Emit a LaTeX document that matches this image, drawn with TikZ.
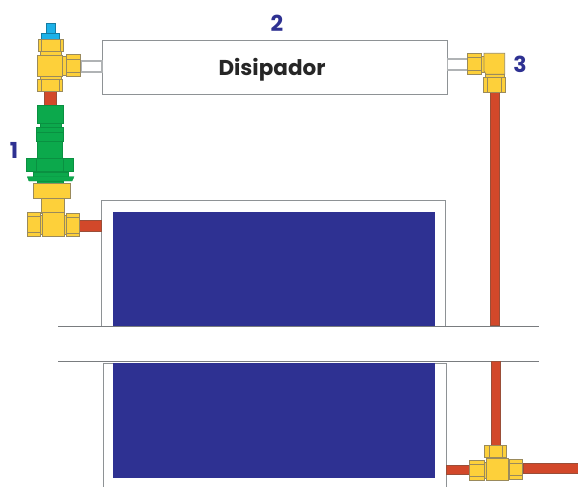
\documentclass[tikz,border=0pt]{standalone}
\usepackage{fontspec}
\setmainfont{Poppins}
\definecolor{brass}{HTML}{FDD03A}
\definecolor{brassline}{HTML}{9A8A5C}
\definecolor{gasgreen}{HTML}{0CA94C}
\definecolor{pipe}{HTML}{D2482A}
\definecolor{pipeline}{HTML}{9A4E38}
\definecolor{capblue}{HTML}{1DB1E8}
\definecolor{panel}{HTML}{2E3192}
\definecolor{outline}{HTML}{8E9295}
\tikzset{
  brasspart/.style={fill=brass,draw=brassline,line width=0.8pt},
  brassmark/.style={draw=brassline,line width=0.6pt},
  greenpart/.style={fill=gasgreen,draw=gasgreen!85!black,line width=0.4pt},
  pipepart/.style={fill=pipe,draw=pipeline,line width=0.4pt},
  bluecap/.style={fill=capblue,draw=capblue!70!black,line width=0.5pt},
  panelpart/.style={fill=panel,draw=none},
  casing/.style={fill=white,draw=outline,line width=1pt},
  stub/.style={fill=white,draw=outline!70,line width=1.4pt},
  wall/.style={draw=outline!85!black,line width=1pt},
  numlabel/.style={text=panel,font=\bfseries\fontsize{22}{22}\selectfont,inner sep=0pt},
  namelabel/.style={text=black!85,font=\bfseries\fontsize{21.5}{22}\selectfont,inner sep=0pt}
}
\begin{document}
\begin{tikzpicture}[x=1pt,y=-1pt]
\useasboundingbox (0,0) rectangle (578,487);
\fill[white] (0,0) rectangle (578,487);
% upper panel
\draw[casing] (101,326) -- (101,200.5) -- (445,200.5) -- (445,326);
\fill[panelpart] (113,212) rectangle (435,326);
\draw[wall] (58,326.5) -- (539,326.5);
% lower panel
\draw[wall] (58,361.5) -- (539,361.5);
\draw[casing] (103,487) -- (103,363) -- (446.5,363) -- (446.5,487);
\fill[panelpart] (113,363) rectangle (435,477.5);
% heat sink
\draw[casing] (102,40.7) rectangle (447,94);
\node[namelabel] (name) at (272,69.5) {Disipador};
% stubs
\draw[stub] (81.5,61) rectangle (102,72);
\draw[stub] (447.3,59) rectangle (467.7,70);
% pipes
\draw[pipepart] (44.3,91) rectangle (55.7,105.5);
\draw[pipepart] (79.3,220.3) rectangle (100.7,231.3);
\draw[pipepart] (490.3,92) rectangle (499,325.5);
\draw[pipepart] (490.7,361.5) rectangle (500,445);
\draw[pipepart] (445.7,465) rectangle (470.5,474.3);
\draw[pipepart] (523,463.3) rectangle (578,472.7);
% cap
\draw[bluecap] (46,23.3) rectangle (55,33.3);
\draw[bluecap] (41.3,33.3) rectangle (59,41.3);
% top valve
\draw[brasspart] (38.3,39.3) rectangle (63.3,51.7);
\draw[brassmark] (41.7,39.3) -- (41.7,51.7) (60,39.3) -- (60,51.7);
\draw[brasspart] (40.7,51.7) rectangle (61.7,55);
\draw[brasspart] (62.7,56.7) rectangle (66,75);
\draw[brasspart] (37.3,55) rectangle (62.7,76);
\draw[brasspart] (66,54.7) rectangle (80.7,76.7);
\draw[brassmark] (66,59.3) -- (80.7,59.3) (66,72.7) -- (80.7,72.7);
\draw[brasspart] (40,76) rectangle (61,79);
\draw[brasspart] (37.3,79) rectangle (62.7,91.7);
\draw[brassmark] (41.7,79) -- (41.7,91.7) (59.3,79) -- (59.3,91.7);
% green regulator
\draw[greenpart] (37.3,105.5) rectangle (63.3,123.3);
\draw[greenpart] (40,123.3) rectangle (61,127.3);
\draw[greenpart] (36,127.3) rectangle (63.3,141);
\draw[greenpart] (37.3,141) rectangle (62.3,158);
\draw[greenpart] (26,157.7) rectangle (72.7,171);
\draw[greenpart] (32.7,171) rectangle (67.7,176.7);
\draw[greenpart] (27.3,176.7) -- (74,176.7) -- (72,181) -- (29,181) -- cycle;
\draw[greenpart] (37.3,181) rectangle (63.3,183.3);
\draw[draw=gasgreen!85!black,line width=0.3pt] (36,132) -- (63.3,132) (36,157.7) -- (36,171) (63,157.7) -- (63,171) (32.7,172) -- (67.7,172);
% lower valve
\draw[brasspart] (33.7,183.3) rectangle (70,198);
\draw[brasspart] (41.7,198) rectangle (64.7,213);
\draw[brasspart] (40.7,215) rectangle (43.5,234);
\draw[brasspart] (64,215) rectangle (66,234);
\draw[brasspart] (42.7,212.7) rectangle (64,236);
\draw[brasspart] (27.7,212) rectangle (40.7,236);
\draw[brassmark] (27.7,216) -- (40.7,216) (27.7,232.7) -- (40.7,232.7);
\draw[brasspart] (66,213) rectangle (79,236.7);
\draw[brassmark] (66,217) -- (79,217) (66,233) -- (79,233);
% elbow 3
\draw[brasspart] (481,56) rectangle (484,72);
\draw[brasspart] (467.7,53.3) rectangle (481,74.7);
\draw[brassmark] (467.7,57.3) -- (481,57.3) (467.7,70.7) -- (481,70.7);
\draw[brasspart] (484,53.3) -- (504.7,53.3) -- (504.7,74.3) -- (486,74.3) -- (484,71) -- cycle;
\draw[brasspart] (485,74.3) rectangle (504,77.3);
\draw[brasspart] (483.3,77.3) rectangle (505.7,92.3);
\draw[brassmark] (487.3,77.3) -- (487.3,92.3) (501.7,77.3) -- (501.7,92.3);
% tee
\draw[brasspart] (484.3,445) rectangle (506.7,457.3);
\draw[brassmark] (489,445) -- (489,457.3) (502.7,445) -- (502.7,457.3);
\draw[brasspart] (484,462) rectangle (487,478);
\draw[brasspart] (508,462) rectangle (510,477);
\draw[brasspart] (486,458.3) rectangle (508.3,480);
\draw[brasspart] (469.3,460) rectangle (484,480);
\draw[brassmark] (469.3,464) -- (484,464) (469.3,476.7) -- (484,476.7);
\draw[brasspart] (509.3,459) rectangle (522.7,479);
\draw[brassmark] (509.3,463) -- (522.7,463) (509.3,475.5) -- (522.7,475.5);
% labels
\node[numlabel] (one) at (14,150) {1};
\node[numlabel] (two) at (277,23) {2};
\node[numlabel] (three) at (520,64) {3};
\end{tikzpicture}
\end{document}
